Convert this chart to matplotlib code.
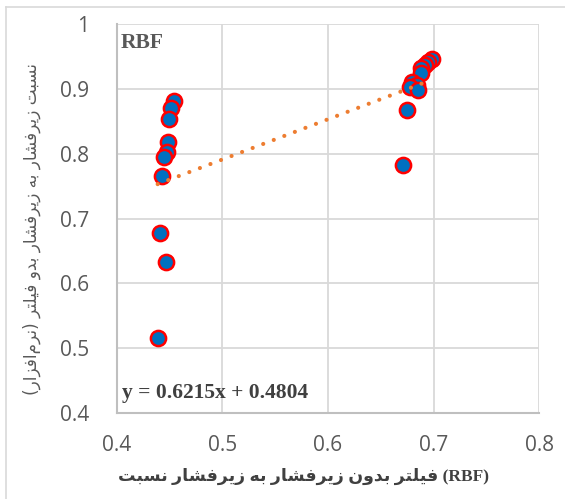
import numpy as np
import matplotlib.pyplot as plt
from matplotlib.lines import Line2D

# data
x_left = [0.4542, 0.4514, 0.4498, 0.4485, 0.4479, 0.4450, 0.4431, 0.4407, 0.4464, 0.4388]
y_left = [0.882, 0.871, 0.854, 0.818, 0.803, 0.795, 0.766, 0.677, 0.633, 0.515]
x_right = [0.6980, 0.6948, 0.6917, 0.6885, 0.6879, 0.6797, 0.6838, 0.6775, 0.6853, 0.6746, 0.6706]
y_right = [0.9459, 0.9422, 0.9371, 0.9320, 0.9252, 0.9113, 0.9062, 0.9026, 0.8985, 0.8675, 0.7825]
slope = 0.6215
intercept = 0.4804

x_ticks = [0.4, 0.5, 0.6, 0.7, 0.8]
y_ticks = [0.4, 0.5, 0.6, 0.7, 0.8, 0.9, 1.0]
x_tick_labels = ["0.4", "0.5", "0.6", "0.7", "0.8"]
y_tick_labels = ["0.4", "0.5", "0.6", "0.7", "0.8", "0.9", "1"]

xlabel_words = ["نسبت", "زیرفشار", "به", "زیرفشار", "بدون", "فیلتر"]
ylabel_words = ["نسبت", "زیرفشار", "به", "زیرفشار", "بدو", "فیلتر", "(نرم\u200cافزار)"]
eq_text = "y = 0.6215x + 0.4804"
title_text = "RBF"

# small arabic shaper (matplotlib has no complex text layout)
forms = {
    'ا': ('\uFE8D', '\uFE8E'),
    'ب': ('\uFE8F', '\uFE90', '\uFE91', '\uFE92'),
    'ت': ('\uFE95', '\uFE96', '\uFE97', '\uFE98'),
    'د': ('\uFEA9', '\uFEAA'),
    'ر': ('\uFEAD', '\uFEAE'),
    'ز': ('\uFEAF', '\uFEB0'),
    'س': ('\uFEB1', '\uFEB2', '\uFEB3', '\uFEB4'),
    'ش': ('\uFEB5', '\uFEB6', '\uFEB7', '\uFEB8'),
    'ف': ('\uFED1', '\uFED2', '\uFED3', '\uFED4'),
    'ل': ('\uFEDD', '\uFEDE', '\uFEDF', '\uFEE0'),
    'م': ('\uFEE1', '\uFEE2', '\uFEE3', '\uFEE4'),
    'ن': ('\uFEE5', '\uFEE6', '\uFEE7', '\uFEE8'),
    'ه': ('\uFEE9', '\uFEEA', '\uFEEB', '\uFEEC'),
    'و': ('\uFEED', '\uFEEE'),
    'ی': ('\uFBFC', '\uFBFD', '\uFBFE', '\uFBFF'),
}


def shape(word):
    out = []
    for i, c in enumerate(word):
        if c not in forms:
            out.append(c)
            continue
        f = forms[c]
        prev = word[i - 1] if i > 0 else ''
        nxt = word[i + 1] if i + 1 < len(word) else ''
        jp = prev in forms and len(forms[prev]) == 4
        jn = len(f) == 4 and nxt in forms
        if jp and jn:
            out.append(f[3])
        elif jp:
            out.append(f[1])
        elif jn:
            out.append(f[2])
        else:
            out.append(f[0])
    s = ''.join(out).replace('\u200c', '')[::-1]
    return s.replace('(', '\0').replace(')', '(').replace('\0', ')')


xlabel = " ".join(shape(w) for w in xlabel_words) + " (RBF)"
ylabel = " ".join(shape(w) for w in reversed(ylabel_words))

fig = plt.figure(figsize=(5.65, 4.99), dpi=100)
ax = fig.add_axes([0.2065, 0.1729, 0.748, 0.7784])

gray = '#595959'
grid = '#D9D9D9'

ax.set_xlim(0.4, 0.8)
ax.set_ylim(0.4, 1.0)
ax.set_xticks(x_ticks)
ax.set_yticks(y_ticks)
ax.set_xticklabels(x_tick_labels)
ax.set_yticklabels(y_tick_labels)
ax.tick_params(length=0, labelsize=15, labelcolor=gray)
for lab in ax.get_xticklabels() + ax.get_yticklabels():
    lab.set_family('Open Sans')
ax.tick_params(axis='x', pad=16)
ax.tick_params(axis='y', pad=20)
ax.grid(True, color=grid, linewidth=1.3, zorder=0)
ax.set_axisbelow(True)
for s in ['top', 'right']:
    ax.spines[s].set_visible(False)
for s in ['left', 'bottom']:
    ax.spines[s].set_color('#BFBFBF')
    ax.spines[s].set_linewidth(1.5)

xs = np.array(x_left + x_right)
ys = np.array(y_left + y_right)
ax.scatter(xs, ys, s=120, color='#0070C0', edgecolors='#FF0000', linewidths=1.8, zorder=3)

tx = np.array([xs.min(), xs.max()])
ax.plot(tx, slope * tx + intercept, color='#ED7D31', linewidth=3,
        linestyle=(0, (0.01, 2.7)), dash_capstyle='round', zorder=4)

ax.text(0.012, 0.05, eq_text, transform=ax.transAxes, fontsize=15.5,
        fontweight='bold', family='Liberation Serif', color='#404040', va='center')
ax.text(0.01, 0.952, title_text, transform=ax.transAxes, fontsize=15.5,
        fontweight='bold', family='Liberation Serif', color=gray, va='center')

ax.set_xlabel(xlabel, fontsize=12.5, fontweight='bold', color='#404040',
              family=['Liberation Serif', 'DejaVu Sans'])
ax.xaxis.set_label_coords(0.441, -0.142)
ax.set_ylabel(ylabel, fontsize=12.1, color=gray, family=['DejaVu Sans'])
ax.yaxis.set_label_coords(-0.18, 0.473)

# chart area border (left and top)
fig.add_artist(Line2D([6 / 565, 6 / 565], [0, 1 - 7 / 499], color=grid, linewidth=1.2))
fig.add_artist(Line2D([6 / 565, 1], [1 - 7 / 499, 1 - 7 / 499], color=grid, linewidth=1.2))

fig.savefig('out.png', dpi=100)
